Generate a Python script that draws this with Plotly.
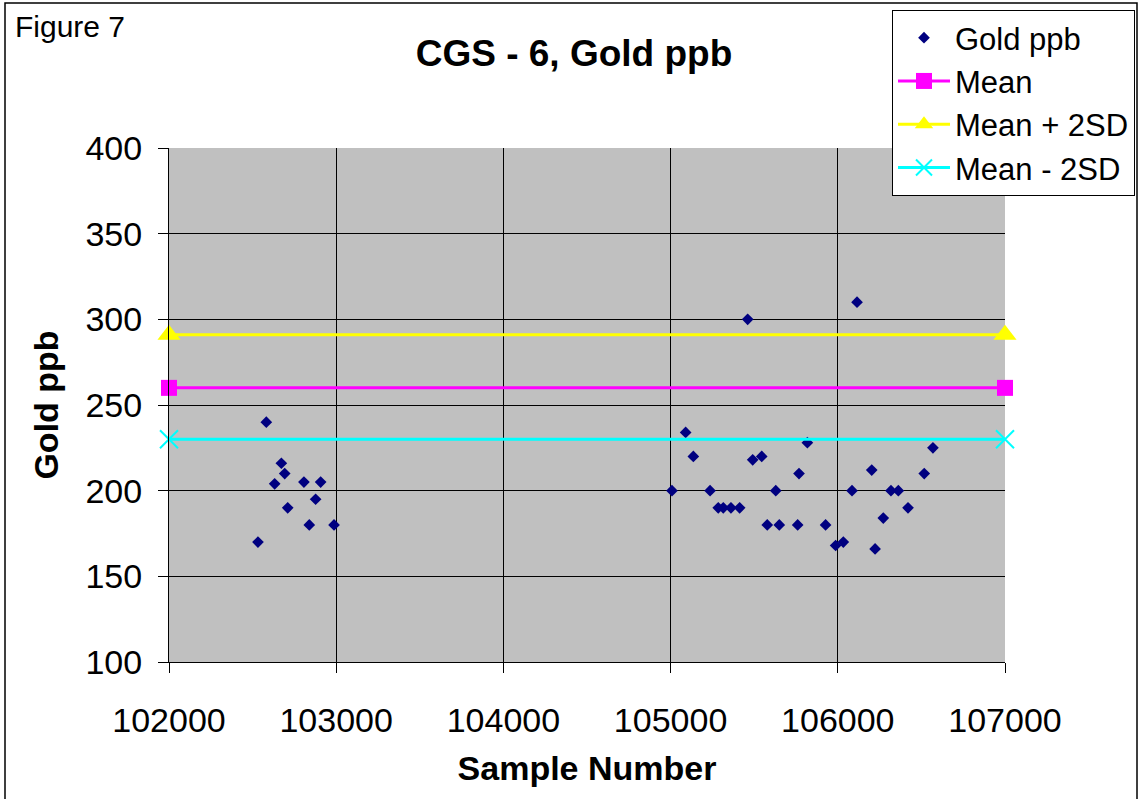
import plotly.graph_objects as go

sample_number = [102532, 102582, 102632, 102672, 102692, 102710, 102807, 102839, 102877, 102907, 102987,
                 105008, 105090, 105136, 105236, 105285, 105315, 105361, 105413, 105461, 105491,
                 105545, 105578, 105629, 105650, 105760, 105768, 105818, 105927, 105987, 106033,
                 106085, 106115, 106203, 106223, 106272, 106318, 106362, 106420, 106517, 106569]
gold_ppb = [170, 240, 204, 216, 210, 190, 205, 180, 195, 205, 180,
            200, 234, 220, 200, 190, 190, 190, 190, 300, 218,
            220, 180, 200, 180, 180, 210, 228, 180, 168, 170,
            200, 310, 212, 166, 184, 200, 200, 190, 210, 225]

line_x = [102000, 107000]
mean_val = [260, 260]
mean_plus_2sd = [291, 291]
mean_minus_2sd = [230, 230]

x_ticks = [102000, 103000, 104000, 105000, 106000, 107000]
y_ticks = [100, 150, 200, 250, 300, 350, 400]

FONT = "Liberation Sans, Arial, sans-serif"

fig = go.Figure()
fig.add_trace(go.Scatter(x=sample_number, y=gold_ppb, mode="markers", name="Gold ppb",
                         marker=dict(symbol="diamond", size=9, color="#000080")))
fig.add_trace(go.Scatter(x=line_x, y=mean_val, mode="lines+markers", name="Mean", cliponaxis=False,
                         line=dict(color="#FF00FF", width=3),
                         marker=dict(symbol="square", size=16, color="#FF00FF")))
fig.add_trace(go.Scatter(x=line_x, y=mean_plus_2sd, mode="lines+markers", name="Mean + 2SD", cliponaxis=False,
                         line=dict(color="#FFFF00", width=3),
                         marker=dict(symbol="triangle-up", size=20, color="#FFFF00")))
fig.add_trace(go.Scatter(x=line_x, y=mean_minus_2sd, mode="lines+markers", name="Mean - 2SD", cliponaxis=False,
                         line=dict(color="#00FFFF", width=3),
                         marker=dict(symbol="x-thin-open", size=18, color="#00FFFF",
                                     line=dict(color="#00FFFF", width=2))))

L, R, T, B = 169, 134, 148, 137
W, H = 1139, 799
pw, ph = W - L - R, H - T - B

def px(xp):
    return (xp - L) / pw

def py(yp):
    return (H - B - yp) / ph

fig.update_layout(
    width=W, height=H,
    margin=dict(l=L, r=R, t=T, b=B, autoexpand=False),
    paper_bgcolor="white", plot_bgcolor="#C0C0C0",
    font=dict(family=FONT, color="black", size=30),
    title=dict(text="<b>CGS - 6, Gold ppb</b>", font=dict(size=37, family=FONT),
               xref="paper", x=px(574), xanchor="center",
               yref="container", y=1 - 53 / H, yanchor="middle"),
    xaxis=dict(range=[102000, 107000], tickvals=x_ticks, ticktext=[str(v) for v in x_ticks],
               showgrid=True, gridcolor="black", gridwidth=1,
               showline=True, linecolor="black", linewidth=1,
               ticks="outside", ticklen=10, tickcolor="black", tickfont=dict(size=34),
               ticklabelstandoff=18,
               title=dict(text="<b>Sample Number</b>", font=dict(size=34), standoff=18),
               zeroline=False),
    yaxis=dict(range=[100, 400], tickvals=y_ticks, ticktext=[str(v) for v in y_ticks],
               showgrid=True, gridcolor="black", gridwidth=1,
               showline=True, linecolor="black", linewidth=1,
               ticks="outside", ticklen=10, tickcolor="black", tickfont=dict(size=34),
               ticklabelstandoff=9,
               title=dict(text="<b>Gold ppb</b>", font=dict(size=34), standoff=16),
               zeroline=False),
    legend=dict(x=px(892), y=py(10), xanchor="left", yanchor="top",
                bgcolor="white", bordercolor="black", borderwidth=1,
                font=dict(size=31, family=FONT), itemwidth=52, tracegroupgap=0),
    showlegend=True,
)

fig.add_annotation(text="Figure 7", xref="paper", yref="paper", x=px(13), y=py(27),
                   xanchor="left", yanchor="middle", showarrow=False, font=dict(size=30, family=FONT))

fig.add_shape(type="rect", xref="paper", yref="paper", x0=px(5), x1=px(1137), y0=py(801), y1=py(3),
              line=dict(color="black", width=1.5), fillcolor="rgba(0,0,0,0)", layer="above")

fig.write_html("out.html")
